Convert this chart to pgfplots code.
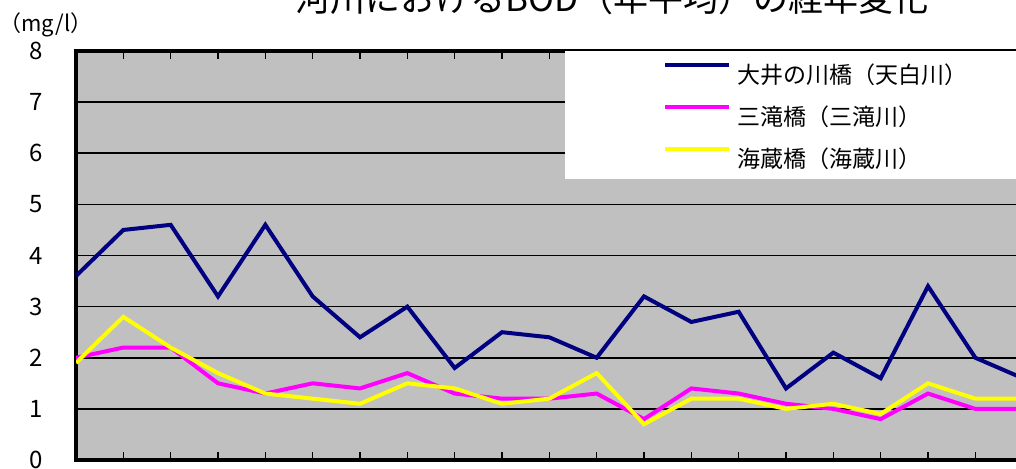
\documentclass[border=0pt]{standalone}
\usepackage{fontspec}
\setmainfont{Noto Sans CJK JP}
\usepackage{pgfplots}
\pgfplotsset{compat=1.18}
\definecolor{navyb}{RGB}{0,0,128}
\definecolor{magb}{RGB}{255,0,255}
\definecolor{yelb}{RGB}{255,255,0}
\definecolor{bg}{RGB}{192,192,192}
\begin{document}
\begin{tikzpicture}
\useasboundingbox (0,0) rectangle (508pt,234pt);
\clip (0,0) rectangle (508pt,234pt);
\node[anchor=base, font=\fontsize{17.5}{20}\selectfont, inner sep=0pt] at (306pt,228.25pt) {河川におけるBOD（年平均）の経年変化};
\node[font=\fontsize{11}{13}\selectfont, inner sep=0pt] at (23pt,221.5pt) {（mg/l）};
\begin{axis}[
 at={(38pt,4pt)}, anchor=south west,
 scale only axis, width=497pt, height=204.5pt,
 xmin=0, xmax=21, ymin=0, ymax=8,
 axis background/.style={fill=bg},
 axis line style={line width=2.2pt, black},
 xtick={0,...,21}, xticklabels={},
 tick align=inside, major tick length=4pt,
 xtick style={black, line width=0.7pt},
 ytick={0,...,8}, ytick style={draw=none},
 ymajorgrids, grid style={black, line width=0.8pt},
 yticklabel style={anchor=east, inner sep=0pt, xshift=-16.5pt, font=\fontsize{12}{14}\selectfont},
 /pgf/number format/assume math mode=true,
 legend style={at={(0.492,1)}, anchor=north west, fill=white, draw=none, inner xsep=49pt, inner ysep=5pt, row sep=9pt, column sep=3pt, font=\fontsize{11.5}{13}\selectfont, nodes={inner sep=0pt, text height=11pt, text depth=1pt}},
 legend cell align=left,
 legend image code/.code={\draw[#1, line width=2pt] (0pt,4.2pt) -- (32pt,4.2pt);},
]
\addplot[navyb, line width=2pt] coordinates {(0,3.6)(1,4.5)(2,4.6)(3,3.2)(4,4.6)(5,3.2)(6,2.4)(7,3.0)(8,1.8)(9,2.5)(10,2.4)(11,2.0)(12,3.2)(13,2.7)(14,2.9)(15,1.4)(16,2.1)(17,1.6)(18,3.4)(19,2.0)(20,1.6)};
\addplot[magb, line width=2pt] coordinates {(0,2.0)(1,2.2)(2,2.2)(3,1.5)(4,1.3)(5,1.5)(6,1.4)(7,1.7)(8,1.3)(9,1.2)(10,1.2)(11,1.3)(12,0.8)(13,1.4)(14,1.3)(15,1.1)(16,1.0)(17,0.8)(18,1.3)(19,1.0)(20,1.0)};
\addplot[yelb, line width=2pt] coordinates {(0,1.9)(1,2.8)(2,2.2)(3,1.7)(4,1.3)(5,1.2)(6,1.1)(7,1.5)(8,1.4)(9,1.1)(10,1.2)(11,1.7)(12,0.7)(13,1.2)(14,1.2)(15,1.0)(16,1.1)(17,0.9)(18,1.5)(19,1.2)(20,1.2)};
\legend{大井の川橋（天白川）,三滝橋（三滝川）,海蔵橋（海蔵川）}
\end{axis}
\end{tikzpicture}
\end{document}
